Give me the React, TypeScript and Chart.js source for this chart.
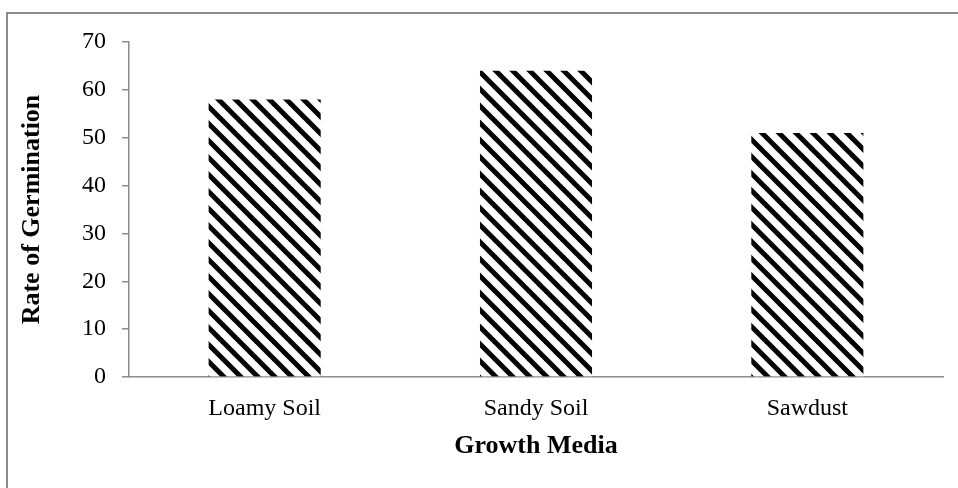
import React, { useEffect, useRef } from "react";
import Chart from "chart.js/auto";

const categories = ["Loamy Soil", "Sandy Soil", "Sawdust"];
const germinationRate = [58, 64, 51];
const yTicks = [0, 10, 20, 30, 40, 50, 60, 70];
const xTitle = "Growth Media";
const yTitle = "Rate of Germination";

function makePattern(): CanvasPattern | string {
  const P = 17;
  const c = document.createElement("canvas");
  c.width = P;
  c.height = P;
  const g = c.getContext("2d");
  if (!g) return "#000";
  g.fillStyle = "#ffffff";
  g.fillRect(0, 0, P, P);
  g.strokeStyle = "#000000";
  g.lineWidth = 5;
  for (let k = -1; k <= 1; k++) {
    g.beginPath();
    g.moveTo(k * P - 2, -2);
    g.lineTo(k * P + P + 2, P + 2);
    g.stroke();
  }
  const p = g.createPattern(c, "repeat");
  return p || "#000";
}

export default function App() {
  const ref = useRef<HTMLCanvasElement | null>(null);
  useEffect(() => {
    if (!ref.current) return;
    const gray = "#8c8c8c";
    const serif = "'Liberation Serif', 'Times New Roman', serif";
    const chart = new Chart(ref.current, {
      type: "bar",
      data: {
        labels: categories,
        datasets: [
          {
            data: germinationRate,
            backgroundColor: makePattern() as any,
            borderWidth: 0,
            barPercentage: 0.413,
            categoryPercentage: 1,
          },
        ],
      },
      options: {
        animation: false,
        responsive: false,
        maintainAspectRatio: false,
        layout: { padding: { left: 0, top: 42, right: 15, bottom: 0 } },
        plugins: { legend: { display: false }, tooltip: { enabled: false } },
        scales: {
          x: {
            grid: { display: false, drawTicks: false },
            border: { display: true, color: gray, width: 1.5 },
            ticks: {
              color: "#000",
              padding: 17,
              font: { family: serif, size: 24 },
            },
            title: {
              display: true,
              text: xTitle,
              color: "#000",
              padding: { top: 0, bottom: 26 },
              font: { family: serif, size: 26, weight: "bold" },
            },
            afterFit: (s: any) => {
              s.height = 111;
            },
          },
          y: {
            min: 0,
            max: 70,
            afterBuildTicks: (s: any) => {
              s.ticks = yTicks.map((v) => ({ value: v }));
            },
            grid: {
              display: true,
              drawOnChartArea: false,
              drawTicks: true,
              tickLength: 7,
              color: gray,
              lineWidth: 1.5,
            },
            border: { display: true, color: gray, width: 1.5 },
            ticks: {
              color: "#000",
              padding: 16,
              font: { family: serif, size: 24 },
            },
            title: {
              display: true,
              text: yTitle,
              color: "#000",
              padding: { top: 17, bottom: 0 },
              font: { family: serif, size: 26, weight: "bold" },
            },
            afterFit: (s: any) => {
              s.width = 129;
            },
          },
        },
      },
    });
    return () => chart.destroy();
  }, []);

  return (
    <div
      style={{
        position: "fixed",
        left: 0,
        top: 0,
        width: 958,
        height: 488,
        overflow: "hidden",
        background: "#fff",
      }}
    >
      <div
        style={{
          position: "absolute",
          left: 6,
          top: 12,
          width: 950,
          height: 474,
          borderLeft: "2px solid #8c8c8c",
          borderTop: "2px solid #8c8c8c",
        }}
      />
      <canvas
        ref={ref}
        width={958}
        height={488}
        style={{ position: "absolute", left: 0, top: 0, width: 958, height: 488 }}
      />
    </div>
  );
}
